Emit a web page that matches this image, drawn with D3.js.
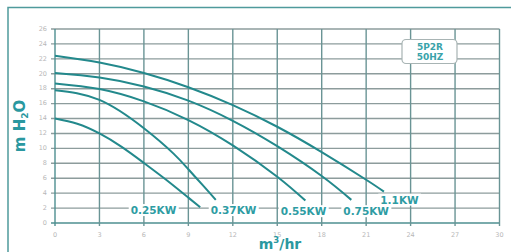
<!DOCTYPE html>
<html>
<head>
<meta charset="utf-8">
<script src="https://cdn.jsdelivr.net/npm/d3@7"></script>
<style>
  body { margin: 0; background: #fff; }
  svg { display: block; }
  .tick-lbl { font-family: "DejaVu Sans", sans-serif; font-size: 6.5px; fill: #b8b8b8; }
  .kw { font-family: "DejaVu Sans", sans-serif; font-size: 10.5px; font-weight: bold; fill: #2e9ca3; }
  .model { font-family: "DejaVu Sans", sans-serif; font-size: 9px; font-weight: bold; fill: #3aa3aa; }
  .title { font-family: "DejaVu Sans", sans-serif; font-weight: bold; fill: #2a98a0; }
</style>
</head>
<body>
<svg id="chart" width="511" height="252"></svg>
<script>
const xTicks = d3.range(0, 31, 3);
const yTicks = d3.range(0, 27, 2);

// pump curves, flow (m3/hr) vs head (m H2O)
const q11 = [0, 3, 6, 9, 12, 15, 18, 21, 22.2];
const h11 = [22.4, 21.5, 20.1, 18.2, 15.8, 12.9, 9.5, 5.8, 4.2];
const q075 = [0, 3, 6, 9, 12, 15, 18, 20];
const h075 = [20.1, 19.5, 18.3, 16.4, 13.7, 10.3, 6.3, 3.1];
const q055 = [0, 3, 6, 9, 12, 15, 16.9];
const h055 = [18.7, 17.95, 16.3, 13.8, 10.4, 6.2, 3.0];
const q037 = [0, 3, 6, 8, 9, 10, 10.85];
const h037 = [17.8, 16.5, 12.7, 9.3, 7.2, 5.0, 3.1];
const q025 = [0, 1.5, 3, 4.5, 6, 7.5, 9, 9.8];
const h025 = [14, 13.3, 12, 10.2, 8.05, 5.8, 3.4, 2.1];

const curveNames = ["0.25KW", "0.37KW", "0.55KW", "0.75KW", "1.1KW"];
const curveQ = [q025, q037, q055, q075, q11];
const curveH = [h025, h037, h055, h075, h11];

const svg = d3.select("#chart");

const x = d3.scaleLinear().domain([0, 30]).range([55, 499.5]);
const y = d3.scaleLinear().domain([0, 26]).range([223, 29]);

// outer frame
svg
  .append("path")
  .attr("d", "M8,260 L8,7.5 L520,7.5")
  .attr("fill", "none")
  .attr("stroke", "#4f9a9c")
  .attr("stroke-width", 1.5);

// horizontal grid
svg
  .selectAll(".hgrid")
  .data(yTicks)
  .join("line")
  .attr("class", "hgrid")
  .attr("x1", x(0) - 4)
  .attr("x2", x(30))
  .attr("y1", (d) => y(d))
  .attr("y2", (d) => y(d))
  .attr("stroke", (d) => (d == 0 ? "#4e8f90" : "#8d9c9c"))
  .attr("stroke-width", 1.4);

// vertical grid
svg
  .selectAll(".vgrid")
  .data(xTicks)
  .join("line")
  .attr("class", "vgrid")
  .attr("x1", (d) => x(d))
  .attr("x2", (d) => x(d))
  .attr("y1", y(26))
  .attr("y2", y(0) + 3)
  .attr("stroke", (d) => (d == 0 ? "#4e8f90" : "#6a9495"))
  .attr("stroke-width", 1.4);

svg
  .selectAll(".ylbl")
  .data(yTicks)
  .join("text")
  .attr("class", "tick-lbl")
  .attr("x", x(0) - 8)
  .attr("y", (d) => y(d))
  .attr("text-anchor", "end")
  .attr("dominant-baseline", "middle")
  .text((d) => d);

svg
  .selectAll(".xlbl")
  .data(xTicks)
  .join("text")
  .attr("class", "tick-lbl")
  .attr("x", (d) => x(d))
  .attr("y", 235)
  .attr("text-anchor", "middle")
  .attr("dominant-baseline", "middle")
  .text((d) => d);

// curves
const line = d3
  .line()
  .x((d) => x(d[0]))
  .y((d) => y(d[1]))
  .curve(d3.curveNatural);

curveQ.forEach((qs, i) => {
  svg
    .append("path")
    .attr("d", line(qs.map((q, j) => [q, curveH[i][j]])))
    .attr("fill", "none")
    .attr("stroke", "#23898c")
    .attr("stroke-width", 2);
});

// curve labels (flow, head position of label centre)
const labelAt = [
  [6.65, 1.6],
  [12.05, 1.6],
  [16.77, 1.45],
  [21.0, 1.45],
  [23.25, 3.0],
];

curveNames.forEach((name, i) => {
  const g = svg.append("g");
  const t = g
    .append("text")
    .attr("class", "kw")
    .attr("x", x(labelAt[i][0]))
    .attr("y", y(labelAt[i][1]))
    .attr("text-anchor", "middle")
    .attr("dominant-baseline", "middle")
    .text(name);
  const bb = t.node().getBBox();
  g.insert("rect", "text")
    .attr("x", bb.x - 2)
    .attr("y", bb.y)
    .attr("width", bb.width + 4)
    .attr("height", bb.height)
    .attr("fill", "#fff");
});

// model box
svg
  .append("rect")
  .attr("x", 402)
  .attr("y", 39.5)
  .attr("width", 55)
  .attr("height", 24)
  .attr("rx", 4)
  .attr("fill", "#fff")
  .attr("stroke", "#a8b4b4")
  .attr("stroke-width", 1.2);

svg
  .append("text")
  .attr("class", "model")
  .attr("x", 430)
  .attr("y", 47.5)
  .attr("text-anchor", "middle")
  .attr("dominant-baseline", "middle")
  .text("5P2R");

svg
  .append("text")
  .attr("class", "model")
  .attr("x", 430)
  .attr("y", 57.5)
  .attr("text-anchor", "middle")
  .attr("dominant-baseline", "middle")
  .text("50HZ");

// axis titles
const yTitle = svg
  .append("text")
  .attr("class", "title")
  .attr("font-size", 15)
  .attr("text-anchor", "middle")
  .attr("transform", "translate(25,126) rotate(-90)");
yTitle.append("tspan").text("m H");
yTitle.append("tspan").attr("font-size", 9).attr("dy", 3).text("2");
yTitle.append("tspan").attr("dy", -3).text("O");

const xTitle = svg
  .append("text")
  .attr("class", "title")
  .attr("font-size", 14)
  .attr("x", 280)
  .attr("y", 249)
  .attr("text-anchor", "middle");
xTitle.append("tspan").text("m");
xTitle.append("tspan").attr("font-size", 8.5).attr("dy", -6).text("3");
xTitle.append("tspan").attr("dy", 6).text("/hr");
</script>
</body>
</html>
